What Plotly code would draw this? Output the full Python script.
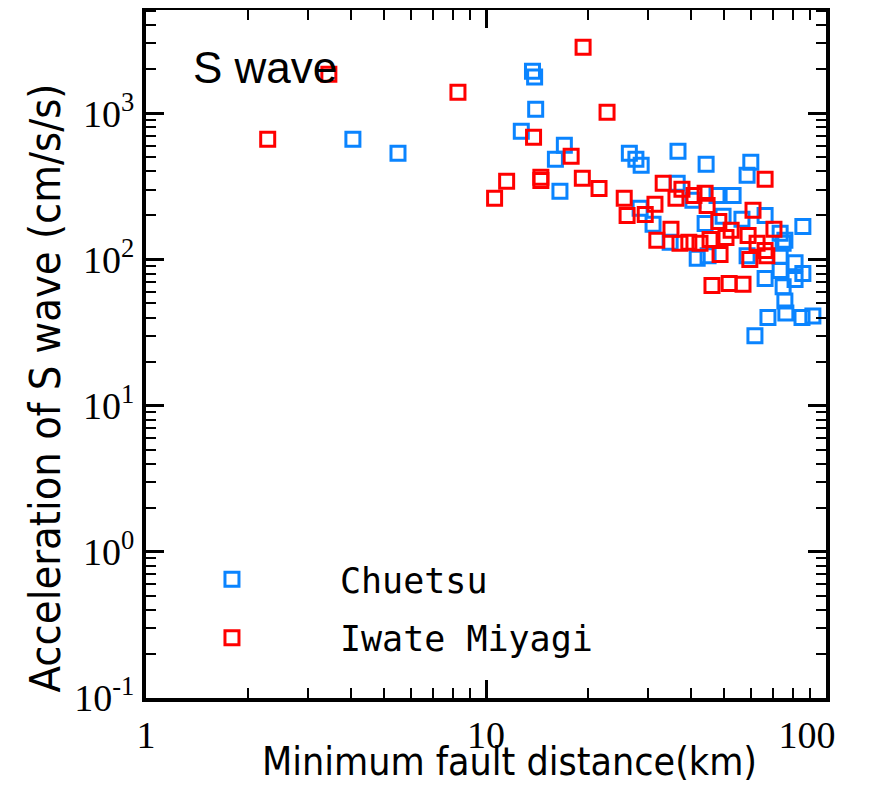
import plotly.graph_objects as go

# Chuetsu (blue) : distance (km), acceleration (cm/s/s)
chuetsu_x = [4.06, 5.51, 13.7, 13.9, 14.0, 12.7, 17.0, 16.0, 16.5, 26.4, 27.6, 28.6,
             36.7, 44.4, 60.1, 58.6, 36.5, 28.4, 47.8, 53.3, 40.6, 31.0, 44.1, 49.8,
             56.6, 66.2, 85.5, 73.3, 75.7, 34.8, 41.8, 45.0, 58.6, 74.8, 73.3, 81.1,
             73.3, 85.5, 81.1, 66.2, 74.8, 75.7, 76.2, 67.5, 85.0, 91.5, 61.8]
chuetsu_y = [664, 532, 1940, 1766, 1065, 753, 604, 484, 292, 532, 484, 441,
             549, 448, 462, 376, 332, 224, 274, 274, 254, 174, 176, 197,
             188, 200, 168, 151, 135, 131, 102, 106, 106, 129, 105, 95,
             84, 80, 73, 74, 65, 52, 43, 40, 40, 41, 30.1]

# Iwate Miyagi (red)
iwate_x = [2.28, 3.45, 8.27, 19.3, 22.7, 13.8, 17.8, 11.5, 14.5, 14.5, 10.6, 19.2,
           21.5, 33.2, 37.7, 25.5, 36.2, 40.9, 44.1, 31.4, 26.0, 29.4, 44.7, 35.0,
           31.8, 37.2, 39.5, 42.6, 45.6, 48.4, 61.0, 52.6, 59.0, 70.3, 66.2, 62.7,
           48.8, 59.7, 67.0, 66.2, 46.2, 51.9, 57.0, 50.8]
iwate_y = [664, 1849, 1393, 2831, 1016, 685, 508, 342, 365, 347, 262, 359,
           306, 332, 302, 262, 262, 274, 283, 238, 200, 203, 234, 161,
           135, 129, 131, 129, 137, 182, 217, 158, 146, 161, 353, 129,
           108, 100, 106, 115, 66.4, 68.5, 67.5, 141]

NB = "\u00a0"
x_tickvals = [1, 10, 100]
x_ticktext = ["1", "10", "100" + NB * 4]
y_tickvals = [0.1, 1, 10, 100, 1000]
y_ticktext = ["10<sup>-1</sup>", "10<sup>0</sup>", "10<sup>1</sup>", "10<sup>2</sup>", "10<sup>3</sup>"]

BLUE = "#0A84FF"
RED = "#FF0000"

fig = go.Figure()
fig.add_trace(go.Scatter(
    x=chuetsu_x, y=chuetsu_y, mode="markers", name="Chuetsu", legendgroup="a",
    marker=dict(symbol="square-open", size=14, color=BLUE, line=dict(width=3, color=BLUE)),
))
fig.add_trace(go.Scatter(
    x=iwate_x, y=iwate_y, mode="markers", name="Iwate Miyagi", legendgroup="b",
    marker=dict(symbol="square-open", size=14, color=RED, line=dict(width=3, color=RED)),
))

tickfont = dict(family="Liberation Serif, Times New Roman, serif", size=38, color="black")
xtitlefont = dict(family="DejaVu Sans Condensed, Liberation Sans Narrow, sans-serif",
                  size=39, color="black")
ytitlefont = dict(family="DejaVu Sans Condensed, Liberation Sans Narrow, sans-serif",
                  size=43, color="black")

fig.update_xaxes(
    type="log", range=[0, 2], tickvals=x_tickvals, ticktext=x_ticktext,
    ticks="inside", ticklen=18, tickwidth=3, tickcolor="black",
    showline=True, linewidth=4, linecolor="black", mirror="allticks",
    showgrid=False, zeroline=False, tickfont=tickfont, automargin=False,
    ticklabeloverflow="allow",
    minor=dict(ticks="inside", ticklen=10, tickwidth=2, tickcolor="black", dtick="D1", showgrid=False),
)
fig.update_yaxes(
    type="log", range=[-1, 3.706], tickvals=y_tickvals, ticktext=y_ticktext,
    ticks="inside", ticklen=18, tickwidth=3, tickcolor="black",
    showline=True, linewidth=4, linecolor="black", mirror="allticks",
    showgrid=False, zeroline=False, tickfont=tickfont, automargin=False,
    ticklabeloverflow="allow",
    minor=dict(ticks="inside", ticklen=10, tickwidth=2, tickcolor="black", dtick="D1", showgrid=False),
)

# axis titles
fig.add_annotation(
    text="Minimum fault distance(km)", xref="paper", yref="paper", x=0.535, y=-0.093,
    xanchor="center", yanchor="middle", showarrow=False, font=xtitlefont,
)
fig.add_annotation(
    text="Acceleration of S wave (cm/s/s)", xref="paper", yref="paper", x=-0.1485, y=0.45,
    xanchor="center", yanchor="middle", showarrow=False, textangle=-90, font=ytitlefont,
)

fig.add_annotation(
    text="S wave", xref="paper", yref="paper", x=0.066, y=0.916,
    xanchor="left", yanchor="middle", showarrow=False,
    font=dict(family="Liberation Sans, Arial, sans-serif", size=44, color="black"),
)

fig.update_layout(
    width=875, height=785,
    margin=dict(l=138, r=57, t=2, b=95, autoexpand=False),
    paper_bgcolor="white", plot_bgcolor="white",
    showlegend=True,
    legend=dict(
        x=-0.0324, y=0.215, xanchor="left", yanchor="top",
        bgcolor="rgba(0,0,0,0)", itemwidth=206,
        font=dict(family="DejaVu Sans Mono, Liberation Mono, monospace", size=35, color="black"),
        tracegroupgap=10, traceorder="grouped", itemsizing="trace",
    ),
)

fig.write_html("out.html")
